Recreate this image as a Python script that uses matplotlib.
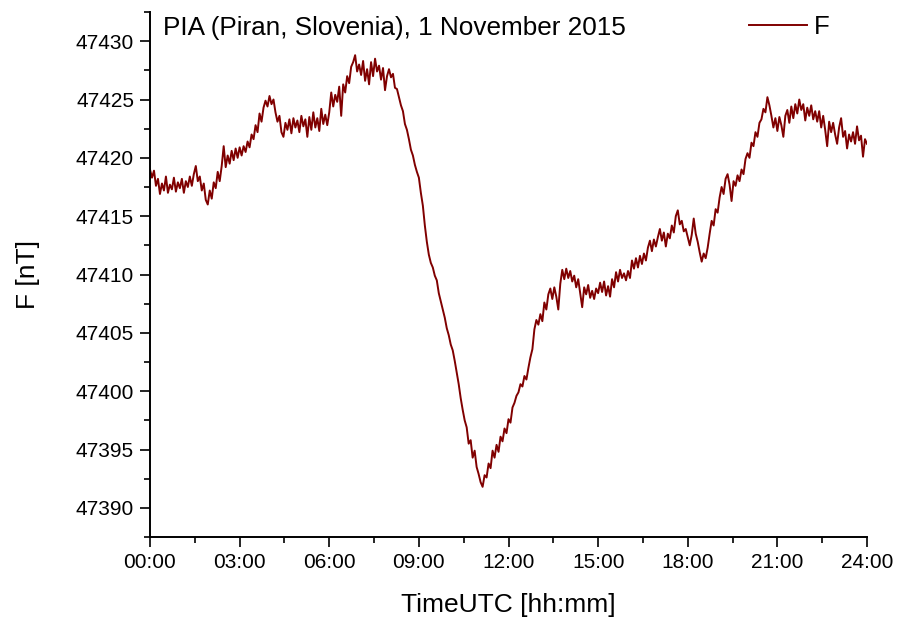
import numpy as np
import matplotlib
matplotlib.use("Agg")
import matplotlib.pyplot as plt
from matplotlib.ticker import MultipleLocator, FuncFormatter

plt.rcParams['font.family'] = ['Liberation Sans', 'DejaVu Sans']

# total field F [nT], every 4 minutes, 00:00 .. 24:00
F_vals = [
    # 00h
    47419.0, 47418.3, 47418.9, 47417.6, 47418.2, 47416.9, 47417.8, 47417.2, 47418.4, 47417.0, 47417.7, 47417.3, 47418.3, 47417.1, 47417.9,
    # 01h
    47417.4, 47418.2, 47417.0, 47418.0, 47417.5, 47418.4, 47417.6, 47418.6, 47419.3, 47418.0, 47418.4, 47417.2, 47417.8, 47416.4, 47416.0,
    # 02h
    47417.2, 47416.5, 47417.9, 47417.4, 47418.8, 47418.0, 47419.3, 47421.0, 47419.2, 47420.2, 47419.5, 47420.6, 47419.8, 47420.8, 47420.0,
    # 03h
    47420.9, 47420.2, 47421.0, 47420.5, 47421.4, 47420.9, 47422.0, 47421.6, 47422.8, 47422.2, 47423.8, 47423.1, 47424.3, 47424.9, 47424.4,
    # 04h
    47425.3, 47424.6, 47425.0, 47423.9, 47423.1, 47423.6, 47422.2, 47421.8, 47423.0, 47422.4, 47423.3, 47422.1, 47423.4, 47422.6, 47423.2,
    # 05h
    47422.2, 47423.6, 47422.7, 47423.3, 47421.8, 47423.5, 47422.4, 47423.9, 47422.6, 47423.4, 47422.3, 47424.2, 47422.9, 47423.7, 47422.8,
    # 06h
    47423.9, 47425.6, 47424.4, 47425.4, 47424.8, 47426.1, 47423.6, 47426.3, 47425.6, 47427.0, 47426.4, 47427.8, 47428.2, 47428.8, 47427.4,
    # 07h
    47428.0, 47427.1, 47428.3, 47426.6, 47427.6, 47426.3, 47428.2, 47427.0, 47428.5, 47427.4, 47427.9, 47426.7, 47427.7, 47425.8, 47427.0,
    # 08h
    47427.6, 47426.9, 47427.2, 47426.0, 47425.9, 47425.2, 47424.5, 47424.0, 47422.9, 47422.4, 47421.6, 47420.7, 47420.2, 47419.4, 47418.8,
    # 09h
    47418.3, 47417.0, 47415.9, 47414.2, 47412.8, 47411.7, 47411.0, 47410.6, 47409.9, 47409.5, 47408.4, 47407.7, 47407.0, 47406.3, 47405.4,
    # 10h
    47404.8, 47404.0, 47403.5, 47402.6, 47401.6, 47400.6, 47399.4, 47398.4, 47397.5, 47396.9, 47395.5, 47395.8, 47394.3, 47394.9, 47393.5,
    # 11h
    47392.9, 47392.2, 47391.8, 47392.8, 47392.6, 47393.8, 47393.4, 47394.9, 47394.3, 47395.4, 47394.8, 47396.1, 47395.7, 47396.8, 47396.4,
    # 12h
    47397.6, 47397.3, 47398.6, 47399.0, 47399.6, 47399.9, 47400.6, 47400.4, 47401.3, 47401.0, 47402.0, 47402.9, 47403.6, 47405.3, 47406.1,
    # 13h
    47405.7, 47406.6, 47406.0, 47407.6, 47407.0, 47408.3, 47408.8, 47407.9, 47408.9, 47408.1, 47407.0, 47409.2, 47410.4, 47409.6, 47410.5,
    # 14h
    47409.7, 47410.3, 47409.4, 47409.9, 47408.9, 47409.6, 47408.4, 47407.2, 47408.9, 47408.3, 47409.1, 47408.0, 47408.6, 47407.9, 47408.8,
    # 15h
    47408.4, 47409.3, 47408.5, 47409.4, 47408.2, 47409.0, 47408.1, 47409.6, 47408.9, 47410.2, 47409.4, 47410.4, 47409.7, 47410.1, 47409.5,
    # 16h
    47410.3, 47409.7, 47411.2, 47410.5, 47411.4, 47410.6, 47411.6, 47410.9, 47411.8, 47411.2, 47412.3, 47412.9, 47412.0, 47413.0, 47412.4,
    # 17h
    47413.2, 47413.9, 47412.9, 47413.6, 47412.4, 47413.5, 47413.1, 47414.2, 47413.6, 47415.0, 47415.5, 47414.3, 47414.6, 47413.7, 47413.9,
    # 18h
    47413.2, 47412.5, 47413.4, 47414.8, 47413.5, 47412.8, 47411.9, 47411.1, 47411.8, 47411.4, 47412.3, 47413.5, 47414.6, 47414.2, 47415.6,
    # 19h
    47415.3, 47416.6, 47417.5, 47416.9, 47418.2, 47418.6, 47417.7, 47416.3, 47418.0, 47417.6, 47418.5, 47418.0, 47419.0, 47418.6, 47419.9,
    # 20h
    47420.4, 47420.0, 47421.3, 47421.0, 47422.2, 47421.8, 47423.0, 47423.3, 47424.2, 47423.9, 47425.2, 47424.5, 47423.6, 47422.6, 47423.4,
    # 21h
    47422.3, 47423.5, 47422.8, 47421.8, 47423.6, 47424.1, 47423.0, 47424.4, 47423.4, 47424.6, 47423.8, 47425.0, 47424.1, 47424.6, 47423.2,
    # 22h
    47424.3, 47423.6, 47424.5, 47423.3, 47424.0, 47423.1, 47424.0, 47422.6, 47423.6, 47422.4, 47421.0, 47423.1, 47422.2, 47423.0, 47422.0,
    # 23h
    47421.2, 47422.6, 47423.4, 47421.8, 47422.3, 47420.8, 47422.0, 47421.4, 47422.2, 47421.2, 47422.7, 47421.5, 47421.9, 47420.1, 47421.6,
    # 24h
    47421.2,
]
minutes = np.arange(0, 24 * 60 + 1, 4)
hours = minutes / 60.0

title = "PIA (Piran, Slovenia), 1 November 2015"
xlabel = "TimeUTC [hh:mm]"
ylabel = "F [nT]"

fig = plt.figure(figsize=(9.06, 6.2), dpi=100)
ax = fig.add_axes([150 / 906, 83 / 620, 717 / 906, 525 / 620])

ax.plot(hours, F_vals, color="#800000", lw=1.4, label="F")

ax.set_xlim(0, 24)
ax.set_ylim(47387.5, 47432.5)
ax.xaxis.set_major_locator(MultipleLocator(3))
ax.xaxis.set_minor_locator(MultipleLocator(1.5))
ax.yaxis.set_major_locator(MultipleLocator(5))
ax.yaxis.set_minor_locator(MultipleLocator(2.5))
ax.xaxis.set_major_formatter(FuncFormatter(lambda v, p: "%02d:00" % int(round(v))))
ax.yaxis.set_major_formatter(FuncFormatter(lambda v, p: "%d" % int(round(v))))

for s in ["top", "right"]:
    ax.spines[s].set_visible(False)
for s in ["left", "bottom"]:
    ax.spines[s].set_linewidth(1.4)

ax.tick_params(which="major", direction="out", length=7.5, width=1.2, labelsize=15, pad=4)
ax.tick_params(which="minor", direction="out", length=4.5, width=1.2)

ax.set_xlabel(xlabel, fontsize=19, labelpad=15)
ax.set_ylabel(ylabel, fontsize=19, labelpad=26)

ax.text(0.018, 0.969, title, transform=ax.transAxes, fontsize=18.8, va="center", ha="left")
ax.legend(loc="center right", bbox_to_anchor=(830 / 906, 1 - 27 / 620),
          bbox_transform=fig.transFigure, frameon=False, fontsize=18.5,
          handlelength=2.25, handletextpad=0.3, borderpad=0, borderaxespad=0)

fig.savefig("out.png", dpi=100)
